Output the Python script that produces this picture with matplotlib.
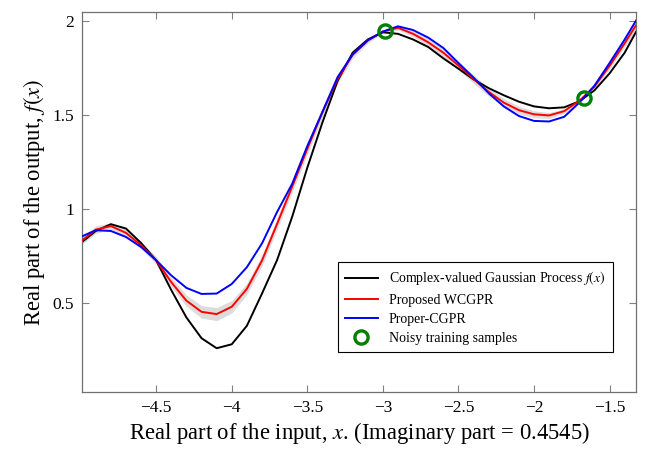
import numpy as np
import matplotlib
matplotlib.use("Agg")
import matplotlib.pyplot as plt
from matplotlib.ticker import FuncFormatter

plt.rcParams['font.family'] = ['Liberation Serif', 'DejaVu Serif']
plt.rcParams['mathtext.fontset'] = 'stix'

# real part of the input (grid of the plotted slice)
x = [-4.99, -4.9, -4.8, -4.7, -4.6, -4.5, -4.4, -4.3, -4.2, -4.1, -4.0,
     -3.9, -3.8, -3.7, -3.6, -3.5, -3.4, -3.3, -3.2, -3.1, -3.0,
     -2.9, -2.8, -2.7, -2.6, -2.5, -2.4, -2.3, -2.2, -2.1, -2.0,
     -1.9, -1.8, -1.7, -1.6, -1.5, -1.4, -1.325]

# true complex-valued GP, real part
f_true = [0.826, 0.884, 0.920, 0.897, 0.820, 0.728, 0.570, 0.425, 0.315, 0.262, 0.283,
          0.381, 0.552, 0.730, 0.960, 1.220, 1.460, 1.680, 1.830, 1.900, 1.938,
          1.930, 1.900, 1.860, 1.800, 1.745, 1.688, 1.642, 1.604, 1.570, 1.545,
          1.535, 1.540, 1.572, 1.630, 1.720, 1.830, 1.940]

# proposed WCGPR mean
wcgpr = [0.835, 0.891, 0.910, 0.874, 0.808, 0.728, 0.612, 0.514, 0.455, 0.443, 0.482,
         0.577, 0.727, 0.922, 1.120, 1.320, 1.515, 1.690, 1.820, 1.895, 1.942,
         1.962, 1.930, 1.885, 1.830, 1.762, 1.690, 1.622, 1.565, 1.525, 1.503,
         1.497, 1.520, 1.575, 1.650, 1.760, 1.880, 1.975]

# confidence half-width around WCGPR
wcgpr_std = [0.020, 0.020, 0.018, 0.018, 0.018, 0.020, 0.025, 0.030, 0.033, 0.035, 0.033,
             0.030, 0.030, 0.030, 0.030, 0.030, 0.028, 0.025, 0.020, 0.014, 0.008,
             0.012, 0.016, 0.020, 0.022, 0.022, 0.022, 0.022, 0.022, 0.020, 0.018,
             0.016, 0.012, 0.006, 0.010, 0.016, 0.020, 0.025]

# Proper-CGPR mean
proper = [0.856, 0.888, 0.884, 0.852, 0.799, 0.728, 0.648, 0.582, 0.550, 0.552, 0.603,
          0.692, 0.818, 0.985, 1.135, 1.335, 1.515, 1.700, 1.820, 1.895, 1.942,
          1.970, 1.950, 1.910, 1.855, 1.775, 1.698, 1.615, 1.545, 1.494, 1.468,
          1.465, 1.490, 1.565, 1.655, 1.775, 1.900, 2.000]

# noisy training samples in this slice
train_x = [-2.986, -1.671]
train_y = [1.947, 1.591]

fig = plt.figure(figsize=(6.47, 4.5), dpi=100)
ax = fig.add_axes([0.127, 0.129, 0.856, 0.844])

lo = np.array(wcgpr) - np.array(wcgpr_std)
hi = np.array(wcgpr) + np.array(wcgpr_std)
ax.fill_between(x, lo, hi, color='#dcdcdc', lw=0, zorder=1)

ax.plot(x, f_true, color='black', lw=1.4, zorder=2,
        label=r'Complex-valued Gaussian Process $f(x)$')
ax.plot(x, wcgpr, color='red', lw=1.4, zorder=3, label='Proposed WCGPR')
ax.plot(x, proper, color='blue', lw=1.4, zorder=4, label='Proper-CGPR')
ax.plot(train_x, train_y, 'o', ms=9.5, mfc='none', mec='#008000', mew=2.4,
        zorder=5, label='Noisy training samples')

ax.set_xlim(-4.99, -1.325)
ax.set_ylim(0.03, 2.045)
ax.set_xticks([-4.5, -4, -3.5, -3, -2.5, -2, -1.5])
ax.set_yticks([0.5, 1, 1.5, 2])
fmt = FuncFormatter(lambda v, p: ('%g' % v).replace('-', '\u2212'))
ax.xaxis.set_major_formatter(fmt)
ax.yaxis.set_major_formatter(fmt)
ax.tick_params(direction='in', length=5, width=0.8, color='#808080',
               top=True, right=True, labelsize=12.5, pad=6)
for s in ax.spines.values():
    s.set_color('#707070')
    s.set_linewidth(0.9)

ax.set_xlabel(r'Real part of the input, $x$. (Imaginary part = 0.4545)', fontsize=16.3, labelpad=3)
ax.set_ylabel(r'Real part of the output, $f(x)$', fontsize=16.3, labelpad=4)

leg = ax.legend(loc='lower right', bbox_to_anchor=(0.958, 0.105), borderaxespad=0,
                fontsize=10, fancybox=False, edgecolor='black', framealpha=1,
                handlelength=2.4, labelspacing=0.45, borderpad=0.5)
leg.get_frame().set_linewidth(0.8)

fig.savefig('out.png', dpi=100)
